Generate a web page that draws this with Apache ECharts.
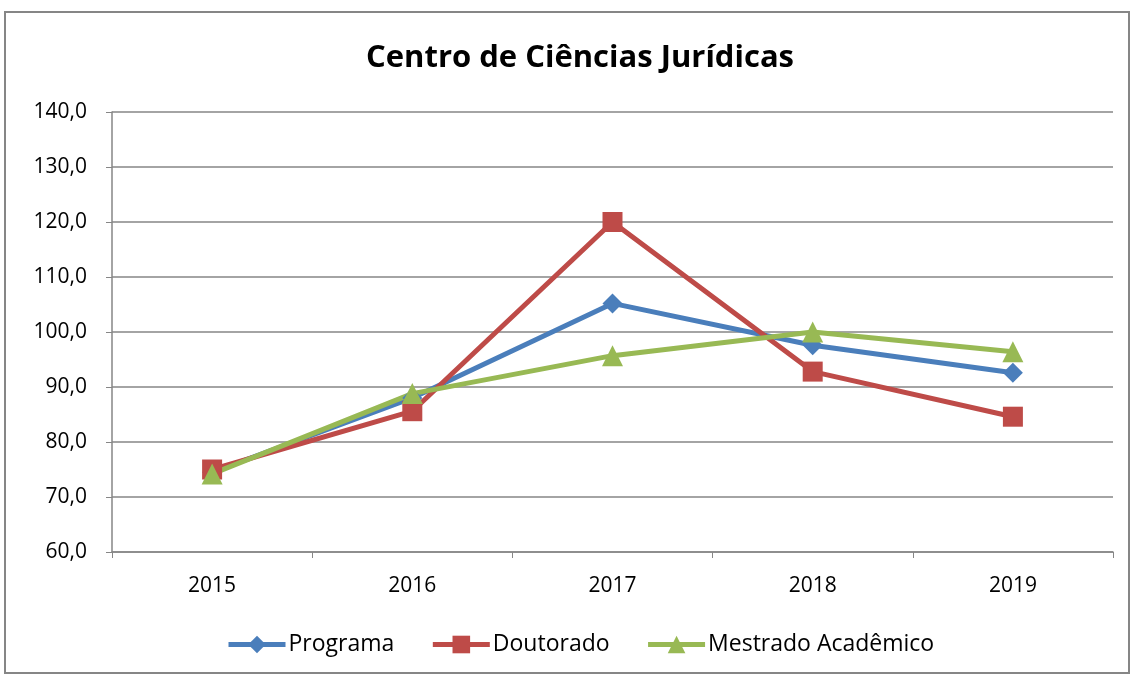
<!DOCTYPE html>
<html><head><meta charset="utf-8">
<script src="https://cdn.jsdelivr.net/npm/echarts@6/dist/echarts.min.js"></script>
<style>html,body{margin:0;padding:0;background:#fff}#c{width:1133px;height:677px}
#frame{position:absolute;left:4px;top:11px;width:1126px;height:663px;border:2px solid #868686;box-sizing:border-box;pointer-events:none}</style>
</head><body><div id="c"></div><div id="frame"></div>
<script>
const categories = ['2015','2016','2017','2018','2019'];
const programa = [74.5, 88.0, 105.2, 97.6, 92.6];
const doutorado = [75.0, 85.6, 120.0, 92.8, 84.6];
const mestrado = [74.2, 88.8, 95.7, 100.0, 96.4];
const seriesNames = ['Programa','Doutorado','Mestrado Acadêmico'];
const colors = ['#4a7ebb','#be4b48','#98b954'];
const font = 'Open Sans, Liberation Sans, sans-serif';
const chart = echarts.init(document.getElementById('c'));
const mk = (name, data, color, symbol, size) => ({
  name, type:'line', data, symbol, symbolSize:size,
  lineStyle:{color, width:5}, itemStyle:{color}, z: 3
});
chart.setOption({
  animation:false,
  color: colors,
  title:{text:'Centro de Ciências Jurídicas', left:575, top:38, textAlign:'center',
    textStyle:{fontFamily:font, fontSize:31, fontWeight:'bold', color:'#000'}},
  grid:{left:112, right:20, top:112, bottom:125},
  legend:{bottom:16, left:221, itemWidth:57, itemHeight:22, itemGap:36,
    lineStyle:{width:5},
    textStyle:{fontFamily:font, fontSize:23, color:'#000', padding:[0,0,0,-2]},
    data: seriesNames},
  xAxis:{type:'category', data:categories, boundaryGap:true,
    axisLine:{lineStyle:{color:'#868686', width:1.5}},
    axisTick:{show:true, length:6, lineStyle:{color:'#868686'}},
    axisLabel:{fontFamily:font, fontSize:21, color:'#000', margin:24}},
  yAxis:{type:'value', min:60, max:140, interval:10,
    axisLine:{show:true, lineStyle:{color:'#868686', width:1.5}},
    axisTick:{show:true, length:6, lineStyle:{color:'#868686'}},
    splitLine:{lineStyle:{color:'#868686', width:1.5}},
    axisLabel:{fontFamily:font, fontSize:21, color:'#000', margin:25,
      formatter: v => v.toFixed(1).replace('.', ',')}},
  series:[
    mk(seriesNames[0], programa, colors[0], 'diamond', 20),
    mk(seriesNames[1], doutorado, colors[1], 'rect', 20),
    mk(seriesNames[2], mestrado, colors[2], 'triangle', 21)
  ]
});
</script></body></html>
